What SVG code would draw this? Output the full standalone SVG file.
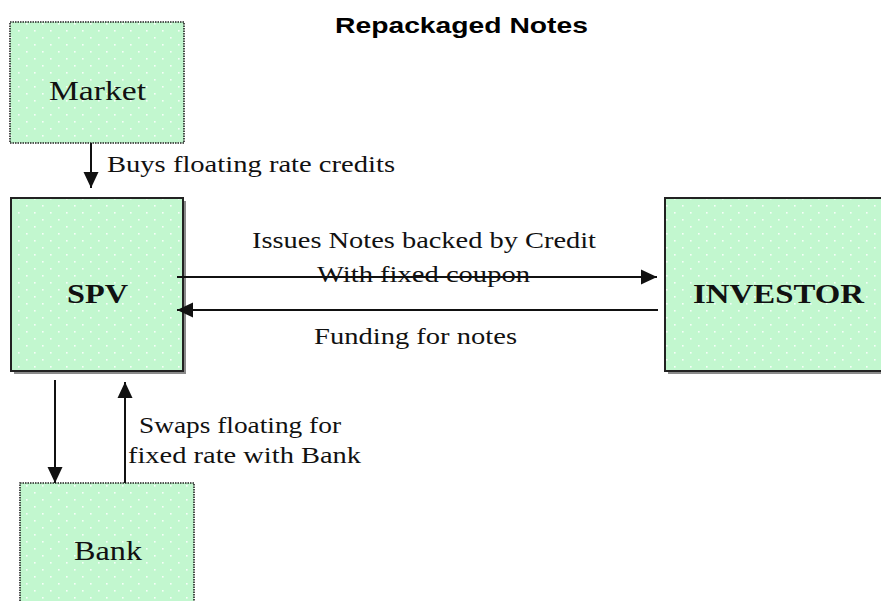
<svg xmlns="http://www.w3.org/2000/svg" width="881" height="601" viewBox="0 0 881 601">
  <style>
    .lbl { font-family: "Liberation Serif", "Times New Roman", serif; font-size: 24px; fill: #111; }
    .name { font-family: "Liberation Serif", "Times New Roman", serif; font-size: 27px; fill: #111; }
    .bold { font-weight: bold; font-size: 28px; }
    .title { font-family: "Liberation Sans", Arial, sans-serif; font-weight: bold; font-size: 22px; fill: #000; }
    .dotted { fill: url(#dots); stroke: #222; stroke-width: 1.6; stroke-dasharray: 1.5 1; }
    .solid { fill: url(#dots); stroke: #222; stroke-width: 2; }
    .shadow { fill: #8a8a8a; }
    .conn { stroke: #111; stroke-width: 2; fill: none; marker-end: url(#head); }
  </style>
  <defs>
    <pattern id="dots" width="16" height="14" patternUnits="userSpaceOnUse">
      <rect width="16" height="14" fill="#c2f7cf"/>
      <rect x="2" y="2" width="1.6" height="1.6" fill="#ffffff" opacity="0.85"/>
      <rect x="10" y="9" width="1.6" height="1.6" fill="#ffffff" opacity="0.85"/>
    </pattern>
    <marker id="head" markerUnits="userSpaceOnUse" markerWidth="16" markerHeight="16" refX="16" refY="8" orient="auto">
      <path d="M0,0.5 L16,8 L0,15.5 Z" fill="#111"/>
    </marker>
  </defs>

  <rect width="881" height="601" fill="#ffffff"/>

  <text class="title" x="335" y="33" textLength="253" lengthAdjust="spacingAndGlyphs">Repackaged Notes</text>

  <g id="market">
    <rect class="dotted" x="10" y="22" width="174" height="121"/>
    <text class="name" x="49" y="100" textLength="97" lengthAdjust="spacingAndGlyphs">Market</text>
  </g>

  <g id="spv">
    <rect class="shadow" x="14" y="201" width="172" height="173"/>
    <rect class="solid" x="11" y="198" width="172" height="173"/>
    <text class="name bold" x="67" y="303" textLength="61" lengthAdjust="spacingAndGlyphs">SPV</text>
  </g>

  <g id="investor">
    <rect class="shadow" x="668" y="201" width="230" height="173"/>
    <rect class="solid" x="665" y="198" width="230" height="173"/>
    <text class="name bold" x="693" y="303" textLength="171" lengthAdjust="spacingAndGlyphs">INVESTOR</text>
  </g>

  <g id="bank">
    <rect class="dotted" x="20" y="483" width="174" height="130"/>
    <text class="name" x="74" y="560" textLength="68" lengthAdjust="spacingAndGlyphs">Bank</text>
  </g>

  <g id="connectors">
    <line class="conn" x1="91" y1="143" x2="91" y2="188"/>
    <line class="conn" x1="177" y1="277" x2="657" y2="277"/>
    <line class="conn" x1="658" y1="310" x2="177" y2="310"/>
    <line class="conn" x1="55" y1="380" x2="55" y2="483"/>
    <line class="conn" x1="125" y1="483" x2="125" y2="382"/>
  </g>

  <g id="labels">
    <text class="lbl" x="107" y="172" textLength="288" lengthAdjust="spacingAndGlyphs">Buys floating rate credits</text>
    <text class="lbl" x="252" y="248" textLength="344" lengthAdjust="spacingAndGlyphs">Issues Notes backed by Credit</text>
    <text class="lbl" x="317" y="282" textLength="213" lengthAdjust="spacingAndGlyphs">With fixed coupon</text>
    <text class="lbl" x="314" y="344" textLength="203" lengthAdjust="spacingAndGlyphs">Funding for notes</text>
    <text class="lbl" x="139" y="433" textLength="202" lengthAdjust="spacingAndGlyphs">Swaps floating for</text>
    <text class="lbl" x="128" y="463" textLength="233" lengthAdjust="spacingAndGlyphs">fixed rate with Bank</text>
  </g>
</svg>
